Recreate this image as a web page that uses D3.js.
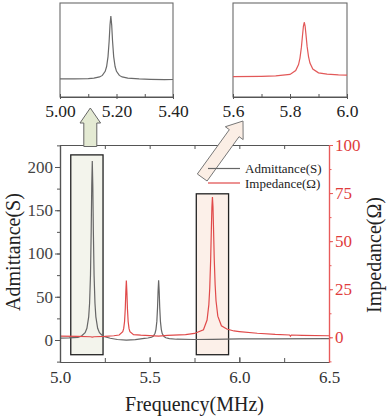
<!DOCTYPE html>
<html><head><meta charset="utf-8">
<script src="https://cdn.jsdelivr.net/npm/d3@7"></script>
<style>
html,body{margin:0;padding:0;background:#fff;}
svg{display:block;font-family:"Liberation Serif","Times New Roman",serif;}
</style></head>
<body><svg id="c" width="390" height="420"></svg>
<script>
// ---- data ----
const admFreq = [5.00,5.05,5.10,5.12,5.14,5.15,5.16,5.165,5.17,5.174,5.177,5.18,5.183,5.186,5.19,5.195,5.20,5.21,5.22,5.24,5.28,5.32,5.37,5.42,5.47,5.49,5.51,5.52,5.53,5.535,5.54,5.544,5.547,5.55,5.553,5.556,5.56,5.565,5.57,5.58,5.59,5.61,5.65,5.75,5.85,6.0,6.2,6.5];
const admVal  = [2.2,2.4,3.0,4.6,8.5,13.5,26.8,42.5,75,126,178,207,178,126,75,42.5,26.8,13.5,8.5,4.5,2.0,0.6,-0.2,0.5,1.8,2.3,3.2,4.4,7.8,12,21.5,38,57,69,57,38,21.5,12,7.5,4,2.6,1.6,0.9,0.6,0.8,1.2,1.4,1.5];
const impFreq = [5.00,5.10,5.17,5.18,5.19,5.25,5.30,5.33,5.35,5.355,5.36,5.364,5.367,5.37,5.373,5.376,5.38,5.385,5.39,5.41,5.45,5.50,5.55,5.60,5.70,5.75,5.80,5.82,5.83,5.835,5.84,5.844,5.847,5.85,5.853,5.856,5.86,5.865,5.87,5.88,5.90,5.93,5.97,6.00,6.10,6.20,6.28,6.285,6.29,6.35,6.50];
const impVal  = [0.6,0.5,0.3,0.1,0.3,0.5,0.8,1.2,2.9,4.5,8.2,15,23.5,29.5,23.5,15,8.2,4.5,2.9,1.4,1.1,0.9,0.6,1.0,1.4,2.0,3.9,9,17,25.5,40,56,67.5,73,68,57,41,27.5,19,11,6,4.3,3.3,3.0,2.1,1.5,1.2,0.6,1.2,1.0,0.8];
const xTicks = [5.0,5.5,6.0,6.5];
const xTickLabels = ["5.0","5.5","6.0","6.5"];
const yLeftTicks = [0,50,100,150,200];
const yRightTicks = [0,25,50,75,100];
const inset1Ticks = [5.00,5.20,5.40];
const inset1Labels = ["5.00","5.20","5.40"];
const inset2Ticks = [5.6,5.8,6.0];
const inset2Labels = ["5.6","5.8","6.0"];
const boxRanges = [[5.06,5.24],[5.76,5.94]];
const boxYRanges = [[-17,214],[-17,169]];
const seriesNames = ["Admittance(S)","Impedance(\u03A9)"];

// ---- style ----
const GRAY = "#666", RED = "#e04a4a", AXG = "#555", AXR = "#e85a5a";
const svg = d3.select("#c");
const admData = admFreq.map((f,i)=>[f,admVal[i]]);
const impData = impFreq.map((f,i)=>[f,impVal[i]]);

// ---- main chart ----
const L=60,R=329,T=145,B=362;
const x = d3.scaleLinear([5.0,6.5],[L,R]);
const yL = d3.scaleLinear([-25.43,225.43],[B,T]);
const yR = d3.scaleLinear([-12.84,100],[B,T]);

svg.append("defs").append("clipPath").attr("id","mclip")
  .append("rect").attr("x",L).attr("y",T).attr("width",R-L).attr("height",B-T);

// highlight boxes
const boxFill = ["#f3f4ec","#fcf0e9"];
boxRanges.forEach((r,i)=>{
  svg.append("rect").attr("x",x(r[0])).attr("y",yL(boxYRanges[i][1]))
    .attr("width",x(r[1])-x(r[0])).attr("height",yL(boxYRanges[i][0])-yL(boxYRanges[i][1]))
    .attr("fill",boxFill[i]).attr("stroke","#222").attr("stroke-width",1.3);
});

// curves
const g = svg.append("g").attr("clip-path","url(#mclip)");
g.append("path").datum(admData).attr("fill","none").attr("stroke",GRAY).attr("stroke-width",1.2)
  .attr("d",d3.line().x(d=>x(d[0])).y(d=>yL(d[1])));
g.append("path").datum(impData).attr("fill","none").attr("stroke",RED).attr("stroke-width",1.2)
  .attr("d",d3.line().x(d=>x(d[0])).y(d=>yR(d[1])));

function styleAxis(sel,color,labelColor,fs){
  sel.select(".domain").attr("stroke",color).attr("stroke-width",1.2);
  sel.selectAll(".tick line").attr("stroke",color).attr("stroke-width",1);
  sel.selectAll("text").attr("fill",labelColor).attr("font-size",fs).attr("font-family","Liberation Serif");
}
const minorX = d3.range(5.0,6.51,0.25);
let ax = svg.append("g").attr("transform",`translate(0,${B})`)
  .call(d3.axisBottom(x).tickValues(minorX).tickSize(-4).tickFormat("").tickSizeOuter(0));
styleAxis(ax,AXG,"#333",17);
ax = svg.append("g").attr("transform",`translate(0,${B})`)
  .call(d3.axisBottom(x).tickValues(xTicks).tickSize(-5).tickPadding(9).tickSizeOuter(0)
    .tickFormat((d,i)=>xTickLabels[i]));
styleAxis(ax,AXG,"#333",17);
ax = svg.append("g").attr("transform",`translate(0,${T})`)
  .call(d3.axisTop(x).tickValues(minorX).tickSize(-4).tickFormat("").tickSizeOuter(0));
styleAxis(ax,AXG,"#333",17);
ax = svg.append("g").attr("transform",`translate(${L},0)`)
  .call(d3.axisLeft(yL).tickValues(d3.range(-25,226,25)).tickSize(3).tickFormat("").tickSizeOuter(0));
styleAxis(ax,AXG,"#444",17);
ax = svg.append("g").attr("transform",`translate(${L},0)`)
  .call(d3.axisLeft(yL).tickValues(yLeftTicks).tickSize(5).tickPadding(2).tickSizeOuter(0));
styleAxis(ax,AXG,"#444",17);
ax = svg.append("g").attr("transform",`translate(${R},0)`)
  .call(d3.axisRight(yR).tickValues(d3.range(-12.5,100.1,12.5)).tickSize(2.5).tickFormat("").tickSizeOuter(0));
styleAxis(ax,AXR,RED,17);
ax = svg.append("g").attr("transform",`translate(${R},0)`)
  .call(d3.axisRight(yR).tickValues(yRightTicks).tickSize(4).tickPadding(2).tickSizeOuter(0));
styleAxis(ax,AXR,"#e03c3c",17);

// axis titles
svg.append("text").attr("transform","translate(20,252) rotate(-90)").attr("text-anchor","middle")
  .attr("font-size",20).attr("fill","#222").text("Admittance(S)");
svg.append("text").attr("transform","translate(381,255) rotate(-90)").attr("text-anchor","middle")
  .attr("font-size",20).attr("fill","#222").text("Impedance(\u03A9)");
svg.append("text").attr("x",(L+R)/2).attr("y",411).attr("text-anchor","middle")
  .attr("font-size",20).attr("fill","#222").text("Frequency(MHz)");

// ---- insets ----
function inset(x0,x1,dom,yDom,ticks,labels,data,color,id){
  const ix = d3.scaleLinear(dom,[x0,x1]);
  const iy = d3.scaleLinear(yDom,[97,3]);
  svg.append("defs").append("clipPath").attr("id",id).append("rect")
    .attr("x",x0).attr("y",3).attr("width",x1-x0).attr("height",94);
  svg.append("rect").attr("x",x0).attr("y",3).attr("width",x1-x0).attr("height",94)
    .attr("fill","none").attr("stroke","#6a6a6a").attr("stroke-width",1.1);
  svg.append("path").datum(data.filter(d=>d[0]>=dom[0]-0.05&&d[0]<=dom[1]+0.05))
    .attr("clip-path",`url(#${id})`).attr("fill","none").attr("stroke",color).attr("stroke-width",1.2)
    .attr("d",d3.line().x(d=>ix(d[0])).y(d=>iy(d[1])));
  const minor = d3.range(dom[0],dom[1]+1e-6,(dom[1]-dom[0])/4);
  let a = svg.append("g").attr("transform","translate(0,97)")
    .call(d3.axisBottom(ix).tickValues(minor).tickSize(-3).tickFormat("").tickSizeOuter(0));
  styleAxis(a,"#555","#222",17.5);
  a = svg.append("g").attr("transform","translate(0,97)")
    .call(d3.axisBottom(ix).tickValues(ticks).tickSize(2).tickPadding(6).tickSizeOuter(0)
      .tickFormat((d,i)=>labels[i]));
  styleAxis(a,"#555","#222",17.5);
}
inset(60,173,[5.0,5.4],[-57,250],inset1Ticks,inset1Labels,admData,"#6a6a6a","c1");
inset(233,347,[5.6,6.0],[-26,98.5],inset2Ticks,inset2Labels,impData,"#e25858","c2");

// ---- arrows ----
function arrow(Bp,Tp,s,h,Lh,fill,stroke){
  const dx=Tp[0]-Bp[0], dy=Tp[1]-Bp[1], len=Math.hypot(dx,dy);
  const u=[dx/len,dy/len], n=[-u[1],u[0]];
  const H=[Tp[0]-u[0]*Lh,Tp[1]-u[1]*Lh];
  const p=(P,k)=>[P[0]+n[0]*k,P[1]+n[1]*k];
  const pts=[p(Bp,s),p(H,s),p(H,h),Tp,p(H,-h),p(H,-s),p(Bp,-s)];
  svg.append("polygon").attr("points",pts.map(q=>q.join(",")).join(" "))
    .attr("fill",fill).attr("stroke",stroke).attr("stroke-width",1);
}
arrow([90.3,146.5],[90.3,108],6.5,10.3,15,"#e4ead3","#666");
arrow([202.2,177.5],[243,121],6,11,15,"#fbeee5","#777");

// ---- legend ----
const lg = [[GRAY,168.5,173],[RED,183,187.5]];
lg.forEach((l,i)=>{
  svg.append("line").attr("x1",208).attr("x2",240).attr("y1",l[1]).attr("y2",l[1])
    .attr("stroke",l[0]).attr("stroke-width",1.2);
  svg.append("text").attr("x",245).attr("y",l[2]).attr("font-size",13).attr("fill","#222").text(seriesNames[i]);
});
</script></body></html>
